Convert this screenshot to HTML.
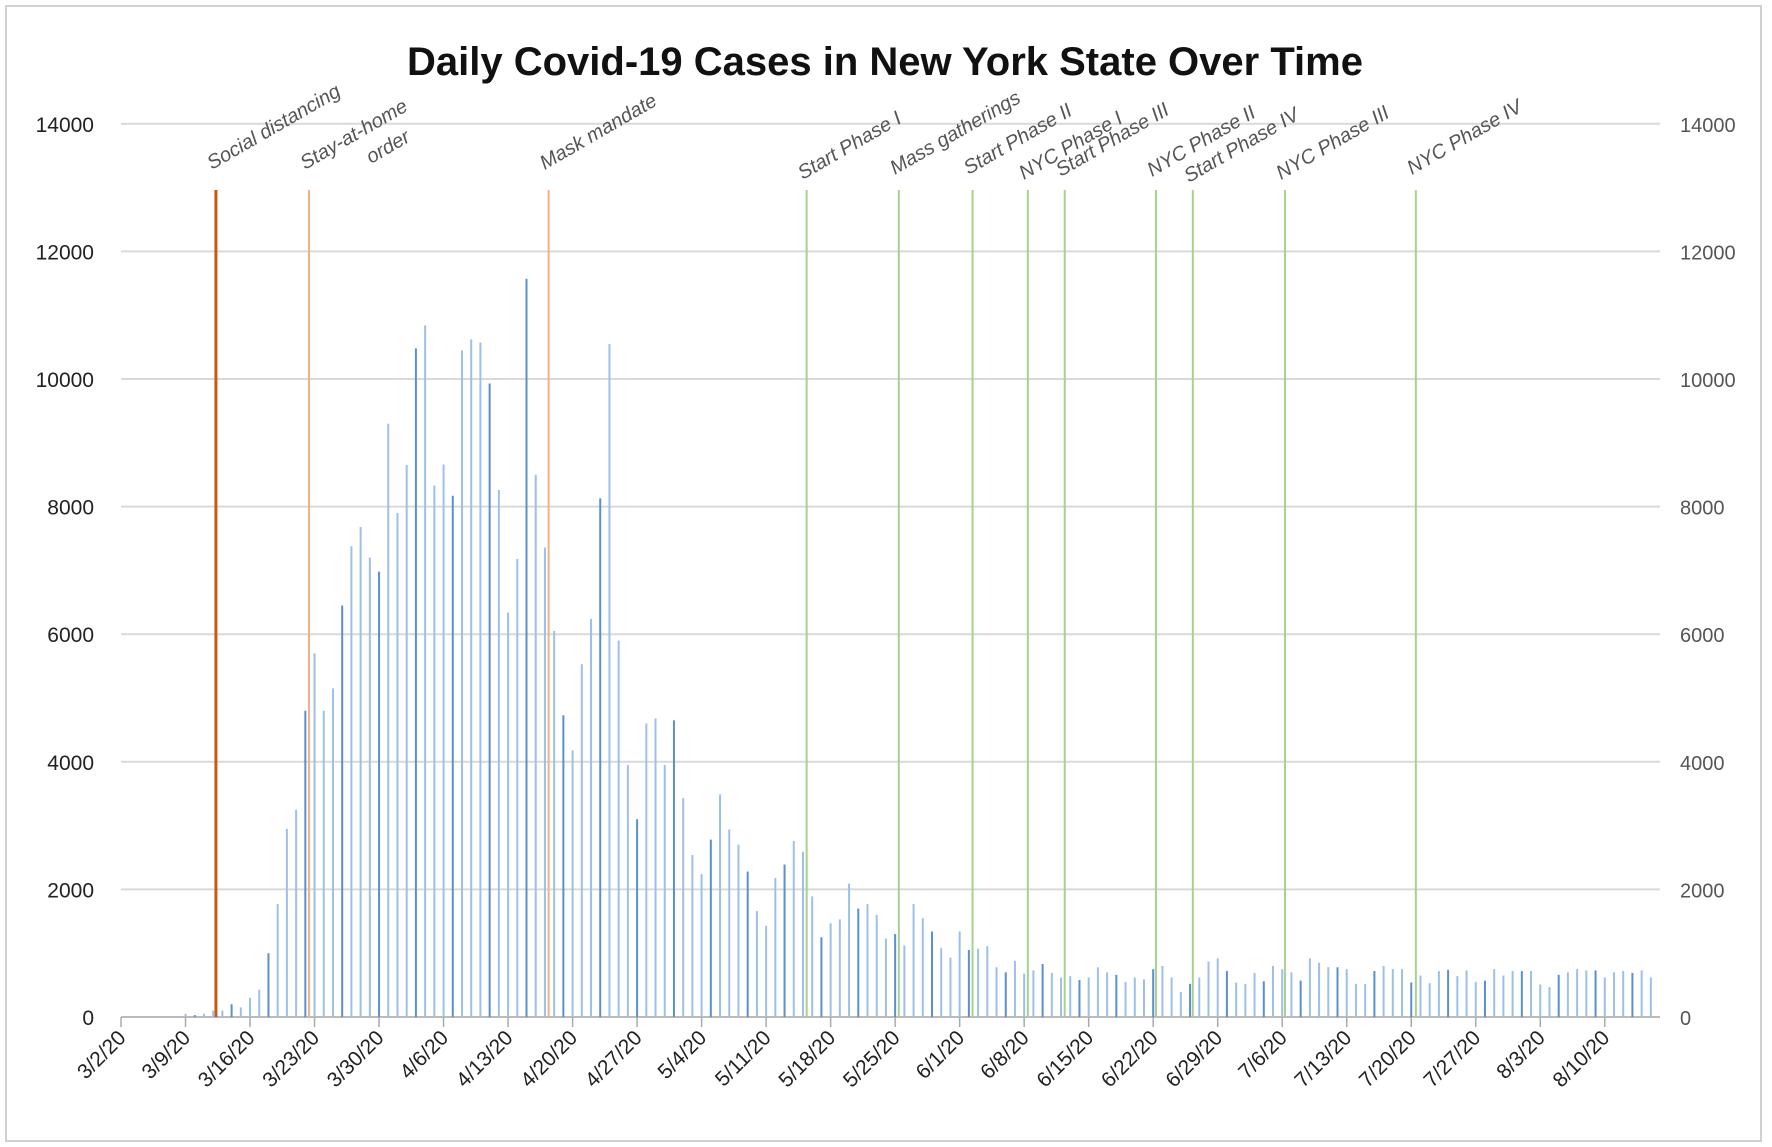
<!DOCTYPE html>
<html><head><meta charset="utf-8"><style>
html,body{margin:0;padding:0;background:#fff;}
svg{display:block;font-family:"Liberation Sans",sans-serif;}
</style></head><body>
<svg id="chart" width="1772" height="1147" viewBox="0 0 1772 1147">
<rect x="6" y="6" width="1755" height="1135" fill="#fff" stroke="#d0d0d0" stroke-width="2"/>
<text x="885" y="75" text-anchor="middle" font-size="40" font-weight="bold" fill="#111">Daily Covid-19 Cases in New York State Over Time</text>
<g id="grid"></g><g id="bars"></g><g id="events"></g><g id="axes"></g>
</svg>
<script>
const cases=[0,0,0,0,0,0,0,50,30,50,100,100,200,150,300,430,1000,1770,2950,3250,4800,5700,4800,5150,6450,7380,7680,7200,6980,9300,7900,8650,10480,10840,8330,8660,8170,10450,10620,10570,9930,8260,6340,7180,11570,8500,7360,6050,4730,4180,5530,6240,8130,10550,5900,3950,3100,4600,4680,3950,4650,3430,2540,2240,2780,3490,2940,2700,2280,1660,1430,2180,2390,2760,2590,1890,1250,1470,1530,2090,1700,1770,1600,1230,1300,1120,1770,1550,1340,1080,930,1340,1050,1070,1110,780,700,880,680,730,830,690,620,640,580,620,780,700,660,550,620,590,750,800,620,390,520,620,870,920,720,540,520,690,560,800,750,700,570,920,850,780,780,750,520,520,720,800,750,750,540,650,530,720,740,640,730,550,570,750,650,720,720,720,510,470,660,700,750,730,730,620,700,720,690,730,620];
const dateLabels=["3/2/20","3/9/20","3/16/20","3/23/20","3/30/20","4/6/20","4/13/20","4/20/20","4/27/20","5/4/20","5/11/20","5/18/20","5/25/20","6/1/20","6/8/20","6/15/20","6/22/20","6/29/20","7/6/20","7/13/20","7/20/20","7/27/20","8/3/20","8/10/20"];
const yTicks=[0,2000,4000,6000,8000,10000,12000,14000];
const eventNames=["Social distancing","Stay-at-home","Mask mandate","Start Phase I","Mass gatherings","Start Phase II","NYC Phase I","Start Phase III","NYC Phase II","Start Phase IV","NYC Phase III","NYC Phase IV"];
const eventDays=[10.3,20.4,46.4,74.4,84.4,92.4,98.4,102.4,112.3,116.3,126.3,140.5];
const eventColors=["#c55a11","#f4b183","#f4b183","#a9d18e","#a9d18e","#a9d18e","#a9d18e","#a9d18e","#a9d18e","#a9d18e","#a9d18e","#a9d18e"];
const eventLabelDy=[0,0,0,10,5,5,10,7,7,13,10,5];

const NS="http://www.w3.org/2000/svg";
const X0=121,DX=9.216,Y0=1017,YS=127.6/2000,XR=1660;
const xs=d=>X0+d*DX, ys=v=>Y0-v*YS;
function mk(tag,attrs,parent,txt){const e=document.createElementNS(NS,tag);for(const k in attrs)e.setAttribute(k,attrs[k]);if(txt!==undefined)e.textContent=txt;document.getElementById(parent).appendChild(e);return e;}

yTicks.forEach(v=>{
  const l=mk('line',{x1:X0,x2:XR,y1:ys(v),y2:ys(v),stroke:v===0?'#bbb':'#d9d9d9','stroke-width':2},'grid');
  
  
  const t=mk('text',{x:94,y:ys(v)+8,'text-anchor':'end','font-size':21,fill:'#222'},'axes',v);
  
  
  const r=mk('text',{x:1680,y:ys(v)+8,'font-size':20,fill:'#555'},'axes',v);
  
  
});
cases.forEach((v,i)=>{
  const b=mk('rect',{x:xs(i)-1,y:ys(v),width:2,height:Math.max(0,v*YS),fill:(i%4===0)?'#5b8fcf':'#9dc0e8'},'bars');
  
  
});
dateLabels.forEach((s,k)=>{
  const x=xs(k*7);
  const tk=mk('line',{x1:x,x2:x,y1:Y0,y2:Y0+10,stroke:'#aaa','stroke-width':1.5},'axes');
  
  
  const t=mk('text',{x:x+6,y:Y0+22,'text-anchor':'end','font-size':21,fill:'#222',transform:`rotate(-45 ${x+6} ${Y0+22})`},'axes',s);
  
  
});
eventNames.forEach((n,i)=>{
  const x=xs(eventDays[i]);
  const l=mk('line',{x1:x,x2:x,y1:190,y2:Y0,stroke:eventColors[i],'stroke-width':i===0?3:2},'events');
  
  
  const ty=170+eventLabelDy[i];
  const t=mk('text',{x:x-4,y:ty,'font-size':20,fill:'#555','font-style':'italic',transform:`rotate(-30 ${x-4} ${ty})`},'events',n);
  
  
  if(i===1){
    const o=mk('text',{x:x+62,y:ty-6,'font-size':20,fill:'#555','font-style':'italic',transform:`rotate(-30 ${x+62} ${ty-6})`},'events','order');
    
    
  }
});
</script>
</body></html>
